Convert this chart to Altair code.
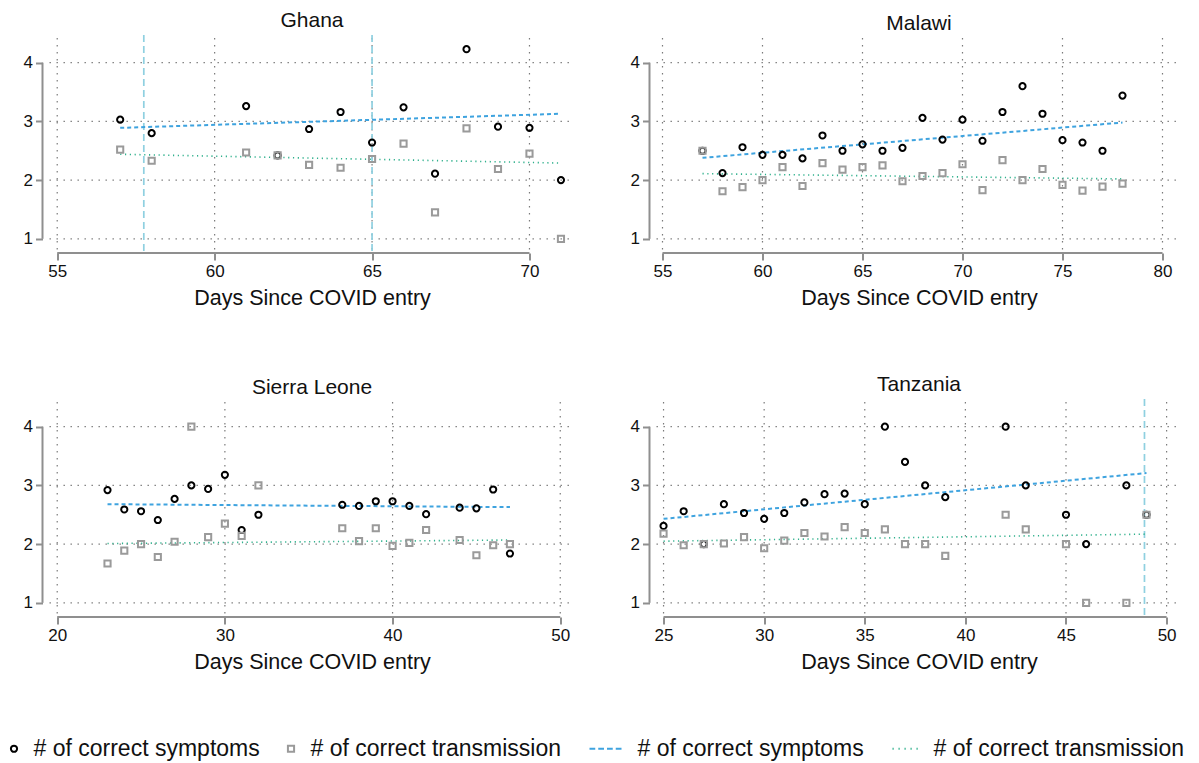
import altair as alt
import pandas as pd

# ---------------- data ----------------
ghana_days = [57, 58, 61, 62, 63, 64, 65, 66, 67, 68, 69, 70, 71]
ghana_symptoms = [3.03, 2.80, 3.26, 2.42, 2.87, 3.16, 2.64, 3.24, 2.11, 4.23, 2.91, 2.89, 2.00]
ghana_transmission = [2.52, 2.33, 2.47, 2.42, 2.26, 2.21, 2.36, 2.62, 1.45, 2.88, 2.19, 2.45, 1.00]
ghana_fit_days = [57, 71]
ghana_fit_symptoms = [2.89, 3.13]
ghana_fit_transmission = [2.44, 2.29]
ghana_ref_days = [57.75, 65]
ghana_xticks = [55, 60, 65, 70]

malawi_days = [57, 58, 59, 60, 61, 62, 63, 64, 65, 66, 67, 68, 69, 70, 71, 72, 73, 74, 75, 76, 77, 78]
malawi_symptoms = [2.50, 2.12, 2.56, 2.43, 2.43, 2.37, 2.76, 2.50, 2.61, 2.50, 2.55, 3.06, 2.69, 3.03,
                   2.67, 3.16, 3.60, 3.13, 2.68, 2.64, 2.50, 3.44]
malawi_transmission = [2.50, 1.81, 1.88, 2.00, 2.22, 1.90, 2.29, 2.18, 2.22, 2.25, 1.98, 2.07, 2.12, 2.27,
                       1.83, 2.34, 2.00, 2.19, 1.92, 1.82, 1.89, 1.94]
malawi_fit_days = [57, 78]
malawi_fit_symptoms = [2.38, 2.98]
malawi_fit_transmission = [2.11, 2.02]
malawi_ref_days = []
malawi_xticks = [55, 60, 65, 70, 75, 80]

sierra_days = [23, 24, 25, 26, 27, 28, 29, 30, 31, 32, 37, 38, 39, 40, 41, 42, 44, 45, 46, 47]
sierra_symptoms = [2.92, 2.59, 2.56, 2.41, 2.77, 3.00, 2.94, 3.18, 2.24, 2.50, 2.67, 2.65, 2.73, 2.73,
                   2.65, 2.51, 2.62, 2.61, 2.93, 1.84]
sierra_transmission = [1.67, 1.89, 2.00, 1.78, 2.04, 4.00, 2.12, 2.35, 2.14, 3.00, 2.27, 2.05, 2.27, 1.97,
                       2.02, 2.24, 2.07, 1.81, 1.98, 2.00]
sierra_fit_days = [23, 47]
sierra_fit_symptoms = [2.68, 2.63]
sierra_fit_transmission = [2.01, 2.07]
sierra_ref_days = []
sierra_xticks = [20, 30, 40, 50]

tanzania_days = [25, 26, 27, 28, 29, 30, 31, 32, 33, 34, 35, 36, 37, 38, 39, 42, 43, 45, 46, 48, 49]
tanzania_symptoms = [2.31, 2.56, 2.00, 2.68, 2.53, 2.43, 2.53, 2.71, 2.85, 2.86, 2.68, 4.00, 3.40, 3.00,
                     2.80, 4.00, 3.00, 2.50, 2.00, 3.00, 2.50]
tanzania_transmission = [2.18, 1.98, 2.00, 2.01, 2.12, 1.93, 2.06, 2.19, 2.13, 2.29, 2.19, 2.25, 2.00, 2.00,
                         1.80, 2.50, 2.25, 2.00, 1.00, 1.00, 2.50]
tanzania_fit_days = [25, 49]
tanzania_fit_symptoms = [2.43, 3.21]
tanzania_fit_transmission = [2.05, 2.17]
tanzania_ref_days = [48.9]
tanzania_xticks = [25, 30, 35, 40, 45, 50]

y_ticks = [1, 2, 3, 4]
x_title = "Days Since COVID entry"

NB = "\u00a0"
LBL_SYM_PT = "# of correct symptoms"
LBL_TR_PT = "# of correct transmission" + NB * 4
LBL_SYM_FIT = "# of correct symptoms" + NB * 5
LBL_TR_FIT = "# of correct transmission"

# ---------------- styling ----------------
FONT = "Liberation Sans"
W, H = 525, 212
Y_DOMAIN = [0.81, 4.42]
AXIS_GRAY = "#8f8f8f"
GRID_GRAY = "#7a7a7a"
TXT = "#111111"
BLUE = "#3ea3df"
GREEN = "#2fb08c"
REF = "#8fd0e0"
PT_SIZE = 38

u = (PT_SIZE ** 0.5) / 2.0  # legend symbol unit (px)


def seg_path(segs):
    return " ".join(f"M{a / u:.3f},0H{b / u:.3f}" for a, b in segs)


PATH_DASH = seg_path([(-28.5, -22.75), (-19.75, -14.0), (-11.0, -5.25), (-2.25, 3.5)])
PATH_DOT = seg_path([(-21.5, -20.3), (-15.5, -14.3), (-9.5, -8.3), (-3.5, -2.3), (2.5, 3.7)])

LEGEND = alt.Legend(
    orient="none", legendX=-41, legendY=699, direction="horizontal", columns=4,
    title=None, labelFontSize=23, labelLimit=600, labelOffset=8, symbolOffset=-6,
    columnPadding=23, symbolStrokeWidth=2, symbolSize=PT_SIZE, labelColor=TXT,
    padding=0, labelFont=FONT,
)
COLOR_SCALE = alt.Scale(domain=[LBL_SYM_PT, LBL_TR_PT, LBL_SYM_FIT, LBL_TR_FIT],
                        range=["#000000", "#9a9a9a", BLUE, GREEN])
SHAPE_SCALE = alt.Scale(domain=[LBL_SYM_PT, LBL_TR_PT, LBL_SYM_FIT, LBL_TR_FIT],
                        range=["circle", "square", PATH_DASH, PATH_DOT])


def panel(name, days, sym, tr, fit_days, fit_sym, fit_tr, ref_days, xticks, xdomain):
    xs = alt.Scale(domain=xdomain, nice=False, zero=False)
    ys = alt.Scale(domain=Y_DOMAIN, nice=False, zero=False)
    xaxis = alt.Axis(values=xticks, title=x_title, domain=False, grid=False, offset=3,
                     tickSize=7, tickWidth=2, tickColor=AXIS_GRAY, labelFontSize=17,
                     labelPadding=3, labelColor=TXT, titleFontSize=21.5, titleFontWeight="normal",
                     titleColor=TXT, titlePadding=8, format="d", labelFont=FONT, titleFont=FONT)
    yaxis = alt.Axis(values=y_ticks, title=None, domain=False, grid=False, offset=7,
                     tickSize=7, tickWidth=2, tickColor=AXIS_GRAY, labelFontSize=17,
                     labelPadding=3, labelColor=TXT, format="d", labelFont=FONT)

    def X(f):
        return alt.X(f, type="quantitative", scale=xs, axis=xaxis)

    def Y(f):
        return alt.Y(f, type="quantitative", scale=ys, axis=yaxis)

    grid_x = alt.Chart(pd.DataFrame({"t": xticks})).mark_rule(
        stroke=GRID_GRAY, strokeWidth=1.2, strokeDash=[1.4, 5.6]
    ).encode(x=X("t"), y=alt.value(0), y2=alt.value(H))
    grid_y = alt.Chart(pd.DataFrame({"t": y_ticks})).mark_rule(
        stroke=GRID_GRAY, strokeWidth=1.2, strokeDash=[1.4, 5.6]
    ).encode(y=Y("t"), x=alt.value(0), x2=alt.value(W))
    x_line = alt.Chart(pd.DataFrame({"a": [xticks[0]], "b": [xticks[-1]]})).mark_rule(
        stroke=AXIS_GRAY, strokeWidth=2
    ).encode(x=X("a"), x2="b", y=alt.value(H + 3))
    y_line = alt.Chart(pd.DataFrame({"a": [y_ticks[0]], "b": [y_ticks[-1]]})).mark_rule(
        stroke=AXIS_GRAY, strokeWidth=2
    ).encode(y=Y("a"), y2="b", x=alt.value(-7))

    layers = [grid_x, grid_y, x_line, y_line]
    if ref_days:
        layers.append(
            alt.Chart(pd.DataFrame({"d": ref_days})).mark_rule(
                stroke=REF, strokeWidth=1.7, strokeDash=[7, 4]
            ).encode(x=X("d"), y=alt.value(-3), y2=alt.value(H + 3))
        )
    layers.append(
        alt.Chart(pd.DataFrame({"day": fit_days, "v": fit_sym})).mark_line(
            stroke=BLUE, strokeWidth=2, strokeDash=[4, 3]
        ).encode(x=X("day"), y=Y("v"))
    )
    layers.append(
        alt.Chart(pd.DataFrame({"day": fit_days, "v": fit_tr})).mark_line(
            stroke=GREEN, strokeWidth=1.6, strokeDash=[1.2, 3.6]
        ).encode(x=X("day"), y=Y("v"))
    )
    pts = pd.DataFrame({
        "day": list(days) + list(days),
        "value": list(sym) + list(tr),
        "series": [LBL_SYM_PT] * len(days) + [LBL_TR_PT] * len(days),
    })
    layers.append(
        alt.Chart(pts).mark_point(filled=False, size=PT_SIZE, strokeWidth=2, opacity=1).encode(
            x=X("day"), y=Y("value"),
            shape=alt.Shape("series:N", scale=SHAPE_SCALE, legend=LEGEND),
            color=alt.Color("series:N", scale=COLOR_SCALE, legend=LEGEND),
        )
    )
    return alt.layer(*layers).properties(
        width=W, height=H,
        title=alt.TitleParams(name, fontSize=21, fontWeight="normal", font=FONT, color=TXT, offset=3),
    )


p1 = panel("Ghana", ghana_days, ghana_symptoms, ghana_transmission, ghana_fit_days,
           ghana_fit_symptoms, ghana_fit_transmission, ghana_ref_days, ghana_xticks, [54.755, 71.43])
p2 = panel("Malawi", malawi_days, malawi_symptoms, malawi_transmission, malawi_fit_days,
           malawi_fit_symptoms, malawi_fit_transmission, malawi_ref_days, malawi_xticks, [54.7, 80.95])
p3 = panel("Sierra Leone", sierra_days, sierra_symptoms, sierra_transmission, sierra_fit_days,
           sierra_fit_symptoms, sierra_fit_transmission, sierra_ref_days, sierra_xticks, [19.54, 50.85])
p4 = panel("Tanzania", tanzania_days, tanzania_symptoms, tanzania_transmission, tanzania_fit_days,
           tanzania_fit_symptoms, tanzania_fit_transmission, tanzania_ref_days, tanzania_xticks, [24.65, 50.74])

chart = alt.vconcat(
    alt.hconcat(p1, p2, spacing=54),
    alt.hconcat(p3, p4, spacing=54),
    spacing=65,
).properties(
    padding={"left": 0.5, "top": 2, "right": 0, "bottom": 0},
    background="white",
).configure(font=FONT).configure_view(strokeWidth=0, stroke="transparent")

chart.save("out.html", embed_options={"renderer": "svg", "actions": False})
